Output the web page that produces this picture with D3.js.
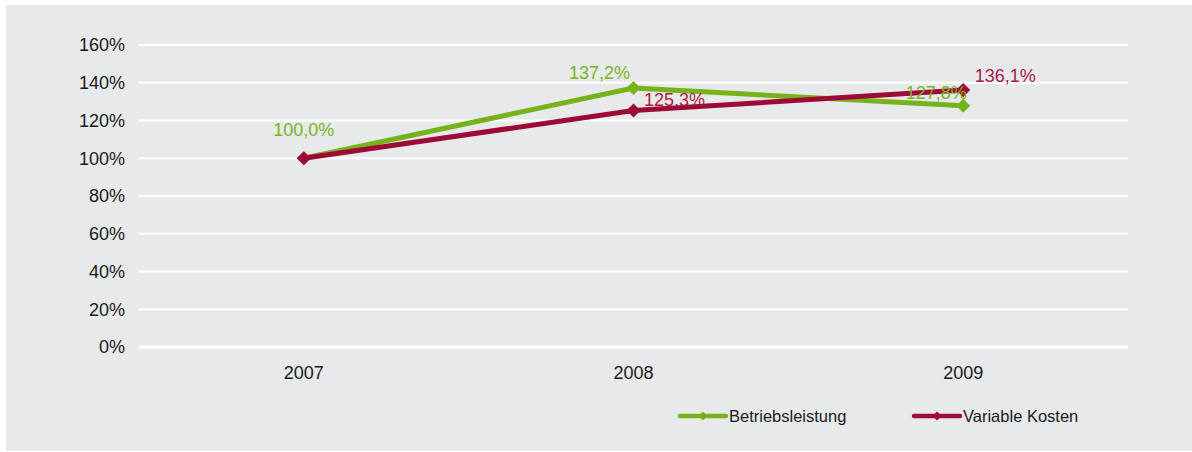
<!DOCTYPE html>
<html><head><meta charset="utf-8">
<script src="https://cdn.jsdelivr.net/npm/d3@7"></script>
<style>
html,body{margin:0;padding:0;background:#fff;}
svg{display:block;font-family:"Liberation Sans",Arial,Helvetica,sans-serif;}
</style></head>
<body>
<svg id="chart" width="1192" height="452"></svg>
<script>
const years = ["2007", "2008", "2009"];
const betriebsleistung = [100.0, 137.2, 127.8];
const variableKosten = [100.0, 125.3, 136.1];
const yTicks = [0, 20, 40, 60, 80, 100, 120, 140, 160];
const seriesNames = ["Betriebsleistung", "Variable Kosten"];

const colors = ["#76b31b", "#9c0a35"];
const labelColors = ["#78b51f", "#a81c45"];
// label placement per point: [dx, dy] relative to marker
const labelPlace = [
  [[0, -28], [-34, -15], [-27, -13]],
  [null, [41, -10], [42, -14]]
];

const svg = d3.select("#chart");
svg.append("rect").attr("x", 6).attr("y", 5).attr("width", 1186).attr("height", 446).attr("fill", "#e8e9eb");

const x = d3.scaleBand().domain(years).range([139, 1128]).padding(0);
const y = d3.scaleLinear().domain([0, 160]).range([347, 45]);

// gridlines
svg.append("g").selectAll("line").data(yTicks).join("line")
  .attr("x1", 139).attr("x2", 1128)
  .attr("y1", d => y(d)).attr("y2", d => y(d))
  .attr("stroke", "#ffffff").attr("stroke-width", d => d === 0 ? 3 : 2);

// y axis
const yAxis = d3.axisLeft(y).tickValues(yTicks).tickFormat(d => d + "%").tickSize(0).tickPadding(0);
const gy = svg.append("g").attr("transform", "translate(125,0)").call(yAxis);
gy.select(".domain").remove();
gy.selectAll("text").attr("font-size", "18px").attr("fill", "#1a1a1a").attr("font-family", "Liberation Sans, Arial, sans-serif");

// x axis
const xAxis = d3.axisBottom(x).tickSize(0).tickPadding(0);
const gx = svg.append("g").attr("transform", "translate(0,366)").call(xAxis);
gx.select(".domain").remove();
gx.selectAll("text").attr("font-size", "18px").attr("fill", "#1a1a1a").attr("font-family", "Liberation Sans, Arial, sans-serif");

const allSeries = [betriebsleistung, variableKosten];
const line = d3.line().x((d, i) => x(years[i]) + x.bandwidth() / 2).y(d => y(d));
const diamond = d3.symbol().type(d3.symbolSquare).size(100);

allSeries.forEach((vals, si) => {
  svg.append("path").datum(vals).attr("d", line)
    .attr("fill", "none").attr("stroke", colors[si]).attr("stroke-width", 5)
    .attr("stroke-linejoin", "round");
  svg.append("g").selectAll("path").data(vals).join("path")
    .attr("d", diamond)
    .attr("transform", (d, i) => `translate(${x(years[i]) + x.bandwidth() / 2},${y(d)}) rotate(45)`)
    .attr("fill", colors[si]);
});

allSeries.forEach((vals, si) => {
  svg.append("g").selectAll("text").data(vals.map((v, i) => ({v, i})).filter(d => labelPlace[si][d.i]))
    .join("text")
    .attr("x", d => x(years[d.i]) + x.bandwidth() / 2 + labelPlace[si][d.i][0])
    .attr("y", d => y(d.v) + labelPlace[si][d.i][1])
    .attr("text-anchor", "middle").attr("dominant-baseline", "central")
    .attr("font-size", "18px").attr("fill", labelColors[si])
    .text(d => d3.format(".1f")(d.v).replace(".", ",") + "%");
});

// legend
const legendX = [680, 914];
seriesNames.forEach((name, si) => {
  const g = svg.append("g").attr("transform", `translate(${legendX[si]},416)`);
  g.append("line").attr("x1", 0).attr("x2", 46).attr("y1", 0).attr("y2", 0)
    .attr("stroke", colors[si]).attr("stroke-width", 4.5).attr("stroke-linecap", "round");
  g.append("path").attr("d", d3.symbol().type(d3.symbolSquare).size(40)).attr("transform", "translate(23,0) rotate(45)").attr("fill", colors[si]);
  g.append("text").attr("x", 49).attr("y", 0).attr("dominant-baseline", "central")
    .attr("font-size", "16.5px").attr("fill", "#1a1a1a").text(name);
});
</script>
</body></html>
